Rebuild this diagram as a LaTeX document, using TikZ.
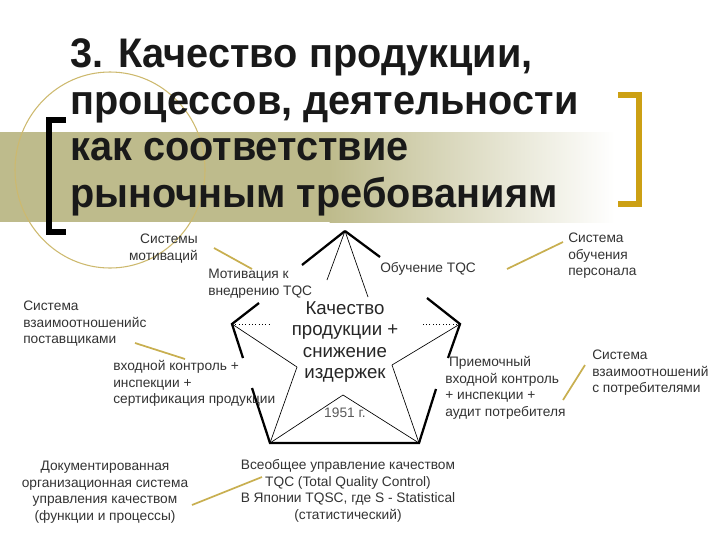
\documentclass[tikz,border=0pt]{standalone}
\usepackage{fontspec}
\setmainfont{Liberation Sans}
\newfontfamily\titlefont[FakeStretch=0.96]{Liberation Sans}
\begin{document}
\begin{tikzpicture}[x=0.75pt,y=-0.75pt,
  small/.style={font=\fontsize{10.3}{12.4}\selectfont,text=black!80,inner sep=0pt},
  thick edge/.style={line width=1.7pt},
  thin edge/.style={line width=0.5pt},
  goldline/.style={draw={rgb,255:red,200;green,175;blue,80},line width=1.3pt}]
\definecolor{olive}{RGB}{190,187,140}
\definecolor{gold}{RGB}{204,160,20}
\useasboundingbox (0,0) rectangle (720,540);
% band
\fill[olive] (0,132) rectangle (330,222);
\shade[left color=olive,right color=white] (329.5,132) rectangle (615,222);
% ellipse
\draw[color={rgb,255:red,205;green,185;blue,110},line width=0.8pt] (110,170) ellipse [x radius=95,y radius=98];
% brackets
\draw[line width=4.5pt] (66,120) -- (49,120) -- (49,232) -- (66,232);
\draw[gold,line width=4pt] (618,95) -- (639,95) -- (639,204) -- (618,204);
% title
\node[anchor=base west,inner sep=0pt,font=\titlefont\bfseries\fontsize{31}{35}\selectfont,text=black!90] (t1) at (70,67) {3. Качество продукции,};
\node[anchor=base west,inner sep=0pt,font=\titlefont\bfseries\fontsize{31}{35}\selectfont,text=black!90] (t2) at (70,114) {процессов, деятельности};
\node[anchor=base west,inner sep=0pt,font=\titlefont\bfseries\fontsize{31}{35}\selectfont,text=black!90] (t3) at (70,160) {как соответствие};
\node[anchor=base west,inner sep=0pt,font=\titlefont\bfseries\fontsize{31}{35}\selectfont,text=black!90] (t4) at (70,207) {рыночным требованиям};
% pentagon points
\coordinate (T) at (345,231); \coordinate (L) at (232,324); \coordinate (R) at (460,324);
\coordinate (BL) at (270,443); \coordinate (BR) at (419,443);
\coordinate (i1) at (327,280); \coordinate (i2) at (368,297);
\coordinate (i3) at (297,367); \coordinate (i4) at (392,365); \coordinate (i5) at (343,395);
\coordinate (dl) at (270,324); \coordinate (dr) at (423,324);
% outer thick partial edges
\coordinate (a1) at (302,265); \coordinate (a2) at (259,303);
\coordinate (b1) at (243,358); \coordinate (b2) at (252,388);
\coordinate (c1) at (436,389); \coordinate (c2) at (448,358);
\coordinate (d1) at (427,298); \coordinate (d2) at (380,257);
\draw[thick edge] (T) -- (a1); \draw[thick edge] (a2) -- (L) -- (b1);
\draw[thick edge] (b2) -- (BL) -- (BR) -- (c1);
\draw[thick edge] (c2) -- (R) -- (d1); \draw[thick edge] (d2) -- (T);
% star
\draw[thin edge] (T) -- (i1); \draw[thin edge] (T) -- (i2);
\draw[thin edge] (L) -- (i3); \draw[thin edge] (BL) -- (i3);
\draw[thin edge] (R) -- (i4); \draw[thin edge] (BR) -- (i4);
\draw[thin edge] (BL) -- (i5); \draw[thin edge] (BR) -- (i5);
\draw[thin edge,dotted] (L) -- (dl); \draw[thin edge,dotted] (R) -- (dr);
% texts
\node[small,align=right,anchor=north east] (mot) at (198,234) {Системы\\мотиваций};
\node[small,align=left,anchor=north west] (motk) at (208,269) {Мотивация к\\внедрению TQC};
\node[small,anchor=west] (obu) at (380,269) {Обучение TQC};
\node[small,align=left,anchor=north west] (sop) at (568,233) {Система\\обучения\\персонала};
\node[small,align=left,anchor=north west] (svp) at (23,301) {Система\\взаимоотношенийс\\поставщиками};
\node[small,align=left,anchor=north west] (vk) at (113,360) {входной контроль +\\инспекции +\\сертификация продукции};
\node[inner sep=0pt,align=center,font=\fontsize{14}{16.2}\selectfont,text=black!85] (cen) at (345,342) {Качество\\продукции +\\снижение\\издержек};
\node[small,text=black!65] (yr) at (345,413) {1951 г.};
\node[small,align=left,anchor=north west] (pk) at (445,356) {\ Приемочный\\входной контроль\\+ инспекции +\\аудит потребителя};
\node[small,align=left,anchor=north west] (svpt) at (592,350) {Система\\взаимоотношений\\с потребителями};
\node[small,align=center] (doc) at (105,492) {Документированная\\организационная система\\управления качеством\\(функции и процессы)};
\node[small,align=center] (tqc) at (348,491) {Всеобщее управление качеством\\TQC (Total Quality Control)\\В Японии TQSC, где S - Statistical\\(статистический)};
% yellow connectors
\coordinate (y1a) at (214,248); \coordinate (y1b) at (252,269);
\coordinate (y2a) at (135,343); \coordinate (y2b) at (185,359);
\coordinate (y3a) at (192,505); \coordinate (y3b) at (262,477);
\coordinate (y4a) at (507,269); \coordinate (y4b) at (563,242);
\coordinate (y5a) at (585,365); \coordinate (y5b) at (563,400);
\draw[goldline] (y1a) -- (y1b); \draw[goldline] (y2a) -- (y2b);
\draw[goldline] (y3a) -- (y3b); \draw[goldline] (y4a) -- (y4b);
\draw[goldline] (y5a) -- (y5b);
\end{tikzpicture}
\end{document}
